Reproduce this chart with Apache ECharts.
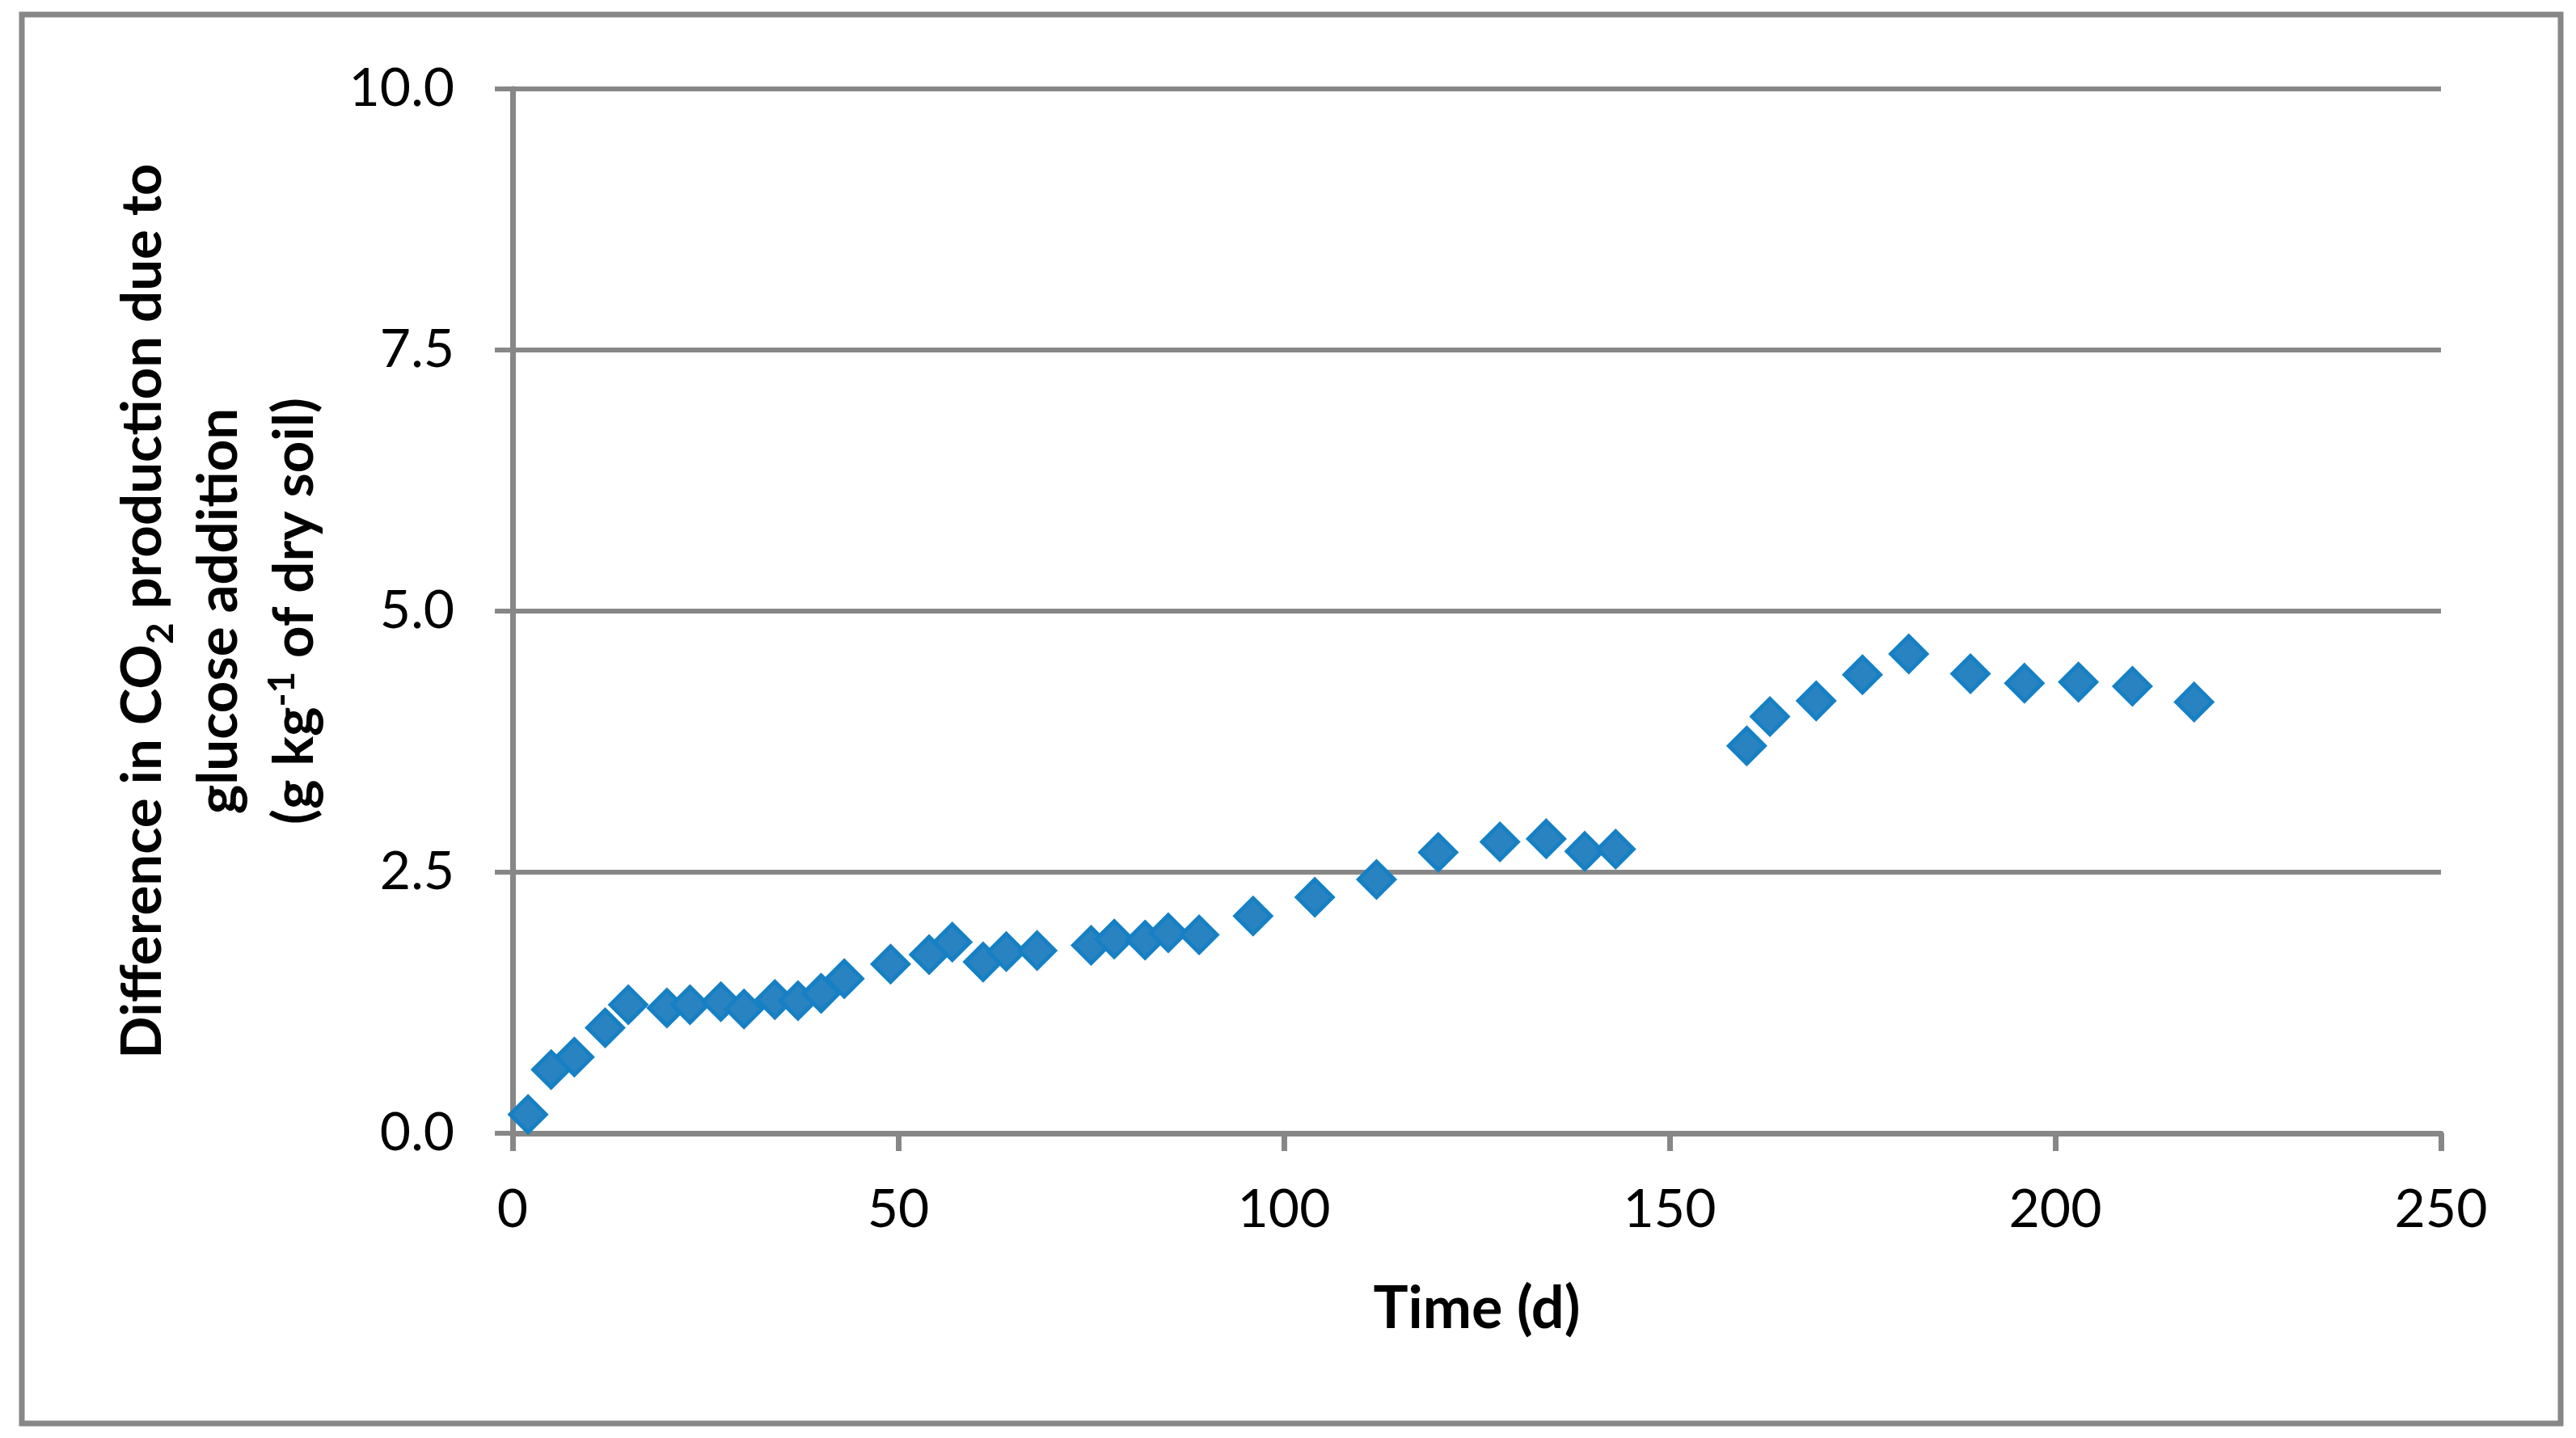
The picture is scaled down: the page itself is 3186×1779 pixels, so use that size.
<!DOCTYPE html>
<html>
<head>
<meta charset="utf-8">
<script src="https://cdn.jsdelivr.net/npm/echarts@6/dist/echarts.min.js"></script>
<style>
html,body{margin:0;padding:0;background:#fff;}
#chart{width:3186px;height:1779px;}
</style>
</head>
<body>
<div id="chart"></div>
<script>
// Time (days)
const days = [2, 5, 8, 12, 15, 20, 23, 27, 30, 34, 37, 40, 43, 49, 54, 57, 61, 64, 68, 75, 78, 82, 85, 89, 96, 104, 112, 120, 128, 134, 139, 143, 160, 163, 169, 175, 181, 189, 196, 203, 210, 218];
// Difference in CO2 production (g kg-1 of dry soil)
const co2Diff = [0.18, 0.61, 0.73, 1.01, 1.23, 1.20, 1.23, 1.26, 1.19, 1.28, 1.27, 1.34, 1.48, 1.62, 1.71, 1.83, 1.64, 1.74, 1.75, 1.80, 1.86, 1.85, 1.92, 1.90, 2.08, 2.26, 2.43, 2.69, 2.79, 2.82, 2.70, 2.72, 3.71, 3.99, 4.14, 4.39, 4.59, 4.40, 4.31, 4.32, 4.28, 4.13];
const xTicks = [0, 50, 100, 150, 200, 250];
const yTicks = [0, 2.5, 5, 7.5, 10];
const xTitle = 'Time (d)';

const points = days.map((d, i) => [d, co2Diff[i]]);
const gray = '#878787';
const font = 'Lato';

const chart = echarts.init(document.getElementById('chart'), null, {renderer: 'canvas'});
chart.setOption({
  backgroundColor: '#ffffff',
  animation: false,
  grid: {left: 634, right: 167, top: 110, bottom: 377, containLabel: false},
  graphic: [{
    type: 'rect',
    shape: {x: 27, y: 18, width: 3140, height: 1743},
    style: {fill: 'none', stroke: gray, lineWidth: 7},
    silent: true, z: -1
  }],
  xAxis: {
    type: 'value',
    min: xTicks[0], max: xTicks[xTicks.length - 1], interval: 50,
    name: xTitle,
    nameLocation: 'middle',
    nameGap: 182,
    nameTextStyle: {fontFamily: font, fontWeight: 'bold', fontSize: 72, color: '#000'},
    axisLine: {show: true, onZero: false, lineStyle: {color: gray, width: 7}},
    axisTick: {show: true, inside: false, length: 22, lineStyle: {color: gray, width: 7}},
    axisLabel: {fontFamily: font, fontSize: 66, color: '#000', margin: 62},
    splitLine: {show: false}
  },
  yAxis: {
    type: 'value',
    min: yTicks[0], max: yTicks[yTicks.length - 1], interval: 2.5,
    name: '{b|Difference in CO}{sub|2}{b| production due to}\n{b|glucose addition}\n{b|(g kg}{sup|-1}{b| of dry soil)}',
    nameLocation: 'middle',
    nameGap: 222,
    nameTextStyle: {
      fontFamily: font, fontWeight: 'bold', fontSize: 69, color: '#000', align: 'center',
      rich: {
        b: {fontFamily: font, fontWeight: 'bold', fontSize: 69, color: '#000', lineHeight: 94, verticalAlign: 'middle'},
        sub: {fontFamily: font, fontWeight: 'bold', fontSize: 46, color: '#000', lineHeight: 46, verticalAlign: 'bottom', padding: [0, 0, 2, 0]},
        sup: {fontFamily: font, fontWeight: 'bold', fontSize: 46, color: '#000', lineHeight: 46, verticalAlign: 'top', padding: [8, 0, 0, 0]}
      }
    },
    axisLine: {show: true, onZero: false, lineStyle: {color: gray, width: 7}},
    axisTick: {show: true, inside: false, length: 22, lineStyle: {color: gray, width: 6}},
    axisLabel: {fontFamily: font, fontSize: 66, color: '#000', margin: 72, formatter: v => v.toFixed(1)},
    splitLine: {show: true, lineStyle: {color: gray, width: 6}}
  },
  series: [{
    type: 'scatter',
    data: points,
    symbol: 'diamond',
    symbolSize: 44,
    itemStyle: {color: '#2a83c1', borderColor: '#1680c4', borderWidth: 5, opacity: 1}
  }]
});
</script>
</body>
</html>
